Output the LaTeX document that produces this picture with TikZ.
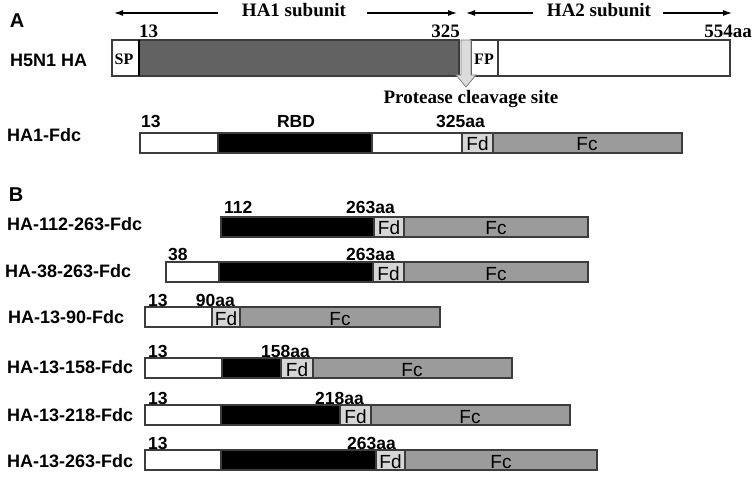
\documentclass[tikz,border=0pt]{standalone}
\usepackage{fontspec}
\setmainfont{Liberation Serif}
\newfontfamily\arialfont{Liberation Sans}
\usetikzlibrary{arrows.meta}
\definecolor{hadark}{HTML}{626262}
\definecolor{fcgray}{HTML}{9B9B9B}
\definecolor{fdgray}{HTML}{D6D6D6}
\definecolor{cutgray}{HTML}{DCDCDC}
\definecolor{edgegray}{HTML}{3C3C3C}
\begin{document}
\begin{tikzpicture}[x=1pt,y=-1pt,
    seg/.style={draw=edgegray,line width=1.1pt},
    whiteseg/.style={seg,fill=white},
    rbdseg/.style={seg,fill=black},
    fdseg/.style={seg,fill=fdgray},
    fcseg/.style={seg,fill=fcgray},
    panel/.style={font=\arialfont\bfseries\fontsize{20}{24}\selectfont,inner sep=0},
    constr/.style={font=\arialfont\bfseries\fontsize{18}{21}\selectfont,inner sep=0,anchor=base west},
    numtext/.style={font=\arialfont\bfseries\fontsize{17.5}{20}\selectfont,inner sep=0},
    sertext/.style={font=\bfseries\fontsize{19}{22}\selectfont,inner sep=0},
    smallser/.style={font=\bfseries\fontsize{16}{18}\selectfont,inner sep=0},
    domtext/.style={font=\arialfont\fontsize{19}{22}\selectfont,inner sep=0,anchor=base},
    subarrow/.style={line width=1.2pt,-{Latex[length=9pt,width=6pt]}} ]
    \useasboundingbox (0,0) rectangle (755,481);
    % panel A
    \node at (17,21) [panel] (A) {A};
    \node at (10,67) [constr] (h5n1) {H5N1 HA};
    \coordinate (ha1l) at (114,13);
    \coordinate (ha1m) at (218,13);
    \coordinate (ha1n) at (367,13);
    \coordinate (ha1r) at (457,13);
    \node at (294,17) [sertext,anchor=base] (ha1) {HA1 subunit};
    \draw [subarrow] (ha1m) to (ha1l);
    \draw [subarrow] (ha1n) to (ha1r);
    \coordinate (ha2l) at (466,13);
    \coordinate (ha2m) at (533,13);
    \coordinate (ha2n) at (663,13);
    \coordinate (ha2r) at (732,13);
    \node at (599,17) [sertext,anchor=base] (ha2) {HA2 subunit};
    \draw [subarrow] (ha2m) to (ha2l);
    \draw [subarrow] (ha2n) to (ha2r);
    \draw [whiteseg] (112,40) rectangle (139,76);
    \draw [seg,fill=hadark] (139,40) rectangle (459,76);
    \draw [line width=1.6pt] (139,40) -- (139,76);
    \draw [whiteseg] (471,40) rectangle (498,76);
    \draw [whiteseg] (498,40) rectangle (730,76);
    \draw [draw=gray,fill=cutgray,line width=0.8pt] (461,40) -- (471,40) -- (471,75)
        -- (476,75) -- (466,87) -- (456,75) -- (461,75) -- cycle;
    \node at (139,38) [sertext,anchor=base west] (n13) {13};
    \node at (460,38) [sertext,anchor=base east] (n325) {325};
    \node at (752,38) [sertext,anchor=base east] (n554) {554aa};
    \node at (124,65) [smallser,anchor=base] (sp) {SP};
    \node at (484,65) [smallser,anchor=base] (fp) {FP};
    \node at (471,104) [sertext,anchor=base] (cut) {Protease cleavage site};
    % HA1-Fdc
    \node at (7,142) [constr] (ha1fdc) {HA1-Fdc};
    \draw [whiteseg] (140,133) rectangle (218,153);
    \draw [rbdseg] (218,133) rectangle (372,153);
    \draw [whiteseg] (372,133) rectangle (462,153);
    \draw [fdseg] (462,133) rectangle (493,153);
    \draw [fcseg] (493,133) rectangle (682,153);
    \node at (141,128) [numtext,anchor=base west] (a13) {13};
    \node at (296,128) [numtext,anchor=base] (rbd) {RBD};
    \node at (485,128) [numtext,anchor=base east] (a325) {325aa};
    \node at (477.5,151) [domtext] (afd) {Fd};
    \node at (587,151) [domtext] (afc) {Fc};
    % panel B
    \node at (16,195) [panel] (B) {B};
    % HA-112-263-Fdc
    \node at (7,230) [constr] (r1) {HA-112-263-Fdc};
    \draw [rbdseg] (221,217) rectangle (374,237);
    \draw [fdseg] (374,217) rectangle (404,237);
    \draw [fcseg] (404,217) rectangle (588,237);
    \node at (224,214) [numtext,anchor=base west] (r1s) {112};
    \node at (395,214) [numtext,anchor=base east] (r1e) {263aa};
    \node at (389,235) [domtext] (r1fd) {Fd};
    \node at (496,235) [domtext] (r1fc) {Fc};
    % HA-38-263-Fdc
    \node at (5,277) [constr] (r2) {HA-38-263-Fdc};
    \draw [whiteseg] (166,262) rectangle (219,282);
    \draw [rbdseg] (219,262) rectangle (373,282);
    \draw [fdseg] (373,262) rectangle (404,282);
    \draw [fcseg] (404,262) rectangle (588,282);
    \node at (168,260) [numtext,anchor=base west] (r2s) {38};
    \node at (395,260) [numtext,anchor=base east] (r2e) {263aa};
    \node at (388.5,280) [domtext] (r2fd) {Fd};
    \node at (496,280) [domtext] (r2fc) {Fc};
    % HA-13-90-Fdc
    \node at (8,323) [constr] (r3) {HA-13-90-Fdc};
    \draw [whiteseg] (145,307) rectangle (212,327);
    \draw [fdseg] (212,307) rectangle (240,327);
    \draw [fcseg] (240,307) rectangle (440,327);
    \node at (148,306) [numtext,anchor=base west] (r3s) {13};
    \node at (235,306) [numtext,anchor=base east] (r3e) {90aa};
    \node at (226,325) [domtext] (r3fd) {Fd};
    \node at (340,325) [domtext] (r3fc) {Fc};
    % HA-13-158-Fdc
    \node at (7,373) [constr] (r4) {HA-13-158-Fdc};
    \draw [whiteseg] (145,358) rectangle (222,378);
    \draw [rbdseg] (222,358) rectangle (281,378);
    \draw [fdseg] (281,358) rectangle (313,378);
    \draw [fcseg] (313,358) rectangle (512,378);
    \node at (148,357) [numtext,anchor=base west] (r4s) {13};
    \node at (310,357) [numtext,anchor=base east] (r4e) {158aa};
    \node at (297,376) [domtext] (r4fd) {Fd};
    \node at (412,376) [domtext] (r4fc) {Fc};
    % HA-13-218-Fdc
    \node at (7,421) [constr] (r5) {HA-13-218-Fdc};
    \draw [whiteseg] (145,405) rectangle (221,425);
    \draw [rbdseg] (221,405) rectangle (340,425);
    \draw [fdseg] (340,405) rectangle (371,425);
    \draw [fcseg] (371,405) rectangle (570,425);
    \node at (148,404) [numtext,anchor=base west] (r5s) {13};
    \node at (364,404) [numtext,anchor=base east] (r5e) {218aa};
    \node at (355.5,423) [domtext] (r5fd) {Fd};
    \node at (470,423) [domtext] (r5fc) {Fc};
    % HA-13-263-Fdc
    \node at (7,467) [constr] (r6) {HA-13-263-Fdc};
    \draw [whiteseg] (145,450) rectangle (221,470);
    \draw [rbdseg] (221,450) rectangle (376,470);
    \draw [fdseg] (376,450) rectangle (405,470);
    \draw [fcseg] (405,450) rectangle (597,470);
    \node at (148,449) [numtext,anchor=base west] (r6s) {13};
    \node at (396,449) [numtext,anchor=base east] (r6e) {263aa};
    \node at (390.5,468) [domtext] (r6fd) {Fd};
    \node at (501,468) [domtext] (r6fc) {Fc};
\end{tikzpicture}
\end{document}
